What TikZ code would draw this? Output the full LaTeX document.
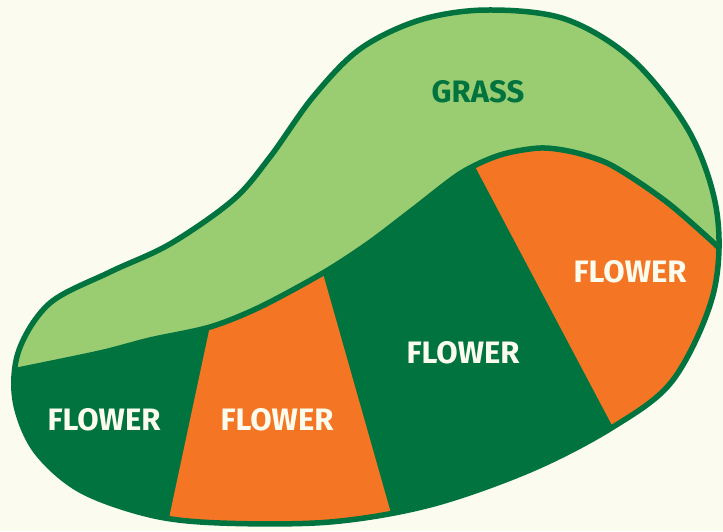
\documentclass[tikz,border=0pt]{standalone}
\usepackage{fontspec}
\setmainfont{Fira Sans}
\definecolor{bgc}{HTML}{FBFBEF}
\definecolor{lgreen}{HTML}{9ACD72}
\definecolor{dgreen}{HTML}{00733E}
\definecolor{orng}{HTML}{F47624}
\definecolor{txtc}{HTML}{FCFCEE}
\tikzset{
  border/.style={draw=dgreen, line width=5.5, line join=round},
  lbl/.style={font=\fontsize{31}{31}\selectfont\bfseries, text=txtc, inner sep=0pt},
  glbl/.style={lbl, text=dgreen}
}
\begin{document}
\begin{tikzpicture}[x=1pt,y=-1pt]
\useasboundingbox (0,0) rectangle (723,531);
\fill[bgc] (0,0) rectangle (723,531);
\begin{scope}
  \clip plot[smooth cycle, tension=0.55] coordinates {(487,10) (565,19) (633,60) (690,133) (717,213) (713,295) (673,380) (613,427) (530,470) (430,505) (330,522) (220,523) (150,515) (80,490) (35,450) (15,400) (19,350) (50,303) (110,272) (170,244) (233,200) (270,157) (313,97) (360,49) (420,20)};
  \fill[lgreen] (0,0) rectangle (723,531);
  \begin{scope}
    \clip plot[smooth, tension=0.5] coordinates {(4,373) (18,370) (100,353) (150,340) (210,327) (260,307) (323,273) (369,243) (415,208) (461,173) (500,155) (540,148) (573,152) (607,163) (640,183) (673,207) (715,244) (726,256)} -- (740,270) -- (740,560) -- (-10,560) -- (-10,374) -- cycle;
    \fill[dgreen] (-10,0) rectangle (740,560);
    \fill[orng] (216,298) -- (316,249) -- (398,538) -- (162,551) -- cycle;
    \fill[orng] (461,140) -- (641,480) -- (740,480) -- (740,140) -- cycle;
  \end{scope}
  \draw[border] plot[smooth, tension=0.5] coordinates {(4,373) (18,370) (100,353) (150,340) (210,327) (260,307) (323,273) (369,243) (415,208) (461,173) (500,155) (540,148) (573,152) (607,163) (640,183) (673,207) (715,244) (726,256)};
\end{scope}
\draw[border] plot[smooth cycle, tension=0.55] coordinates {(487,10) (565,19) (633,60) (690,133) (717,213) (713,295) (673,380) (613,427) (530,470) (430,505) (330,522) (220,523) (150,515) (80,490) (35,450) (15,400) (19,350) (50,303) (110,272) (170,244) (233,200) (270,157) (313,97) (360,49) (420,20)};
\node[glbl] (grass) at (478,92) {GRASS};
\node[lbl] (f1) at (104,420) {FLOWER};
\node[lbl] (f2) at (277,420) {FLOWER};
\node[lbl] (f3) at (463,353) {FLOWER};
\node[lbl] (f4) at (630,272) {FLOWER};
\end{tikzpicture}
\end{document}
